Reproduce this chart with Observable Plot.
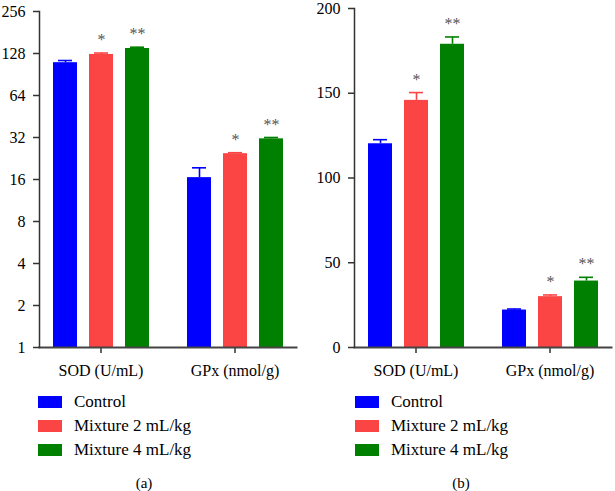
<!DOCTYPE html>
<html>
<head>
<meta charset="utf-8">
<script src="https://cdn.jsdelivr.net/npm/d3@7"></script>
<script src="https://cdn.jsdelivr.net/npm/@observablehq/plot@0.6"></script>
<style>
  html, body { margin: 0; padding: 0; background: #fff; }
  #root { position: relative; width: 615px; height: 491px; overflow: hidden; font-family: "Liberation Serif", serif; color: #000; }
  .panel { position: absolute; top: 0; }
  .legend { position: absolute; font-size: 17px; }
  .row { position: absolute; left: 0; height: 24px; white-space: nowrap; }
  .sw { position: absolute; left: 0; top: 6px; width: 24px; height: 12px; }
  .lab { position: absolute; top: 2px; line-height: 20px; }
  .cap { position: absolute; top: 476px; font-size: 15px; line-height: 15px; transform: translateX(-50%); }
</style>
</head>
<body>
<div id="root"></div>
<script>
// ---- data ----
const categories = ["SOD (U/mL)", "GPx (nmol/g)"];
const groups = ["Control", "Mixture 2 mL/kg", "Mixture 4 mL/kg"];
const colors = ["#0000ff", "#fb4444", "#008000"];
const stars = ["", "*", "**"];

// panel (a): log2 scale
const aSOD = [110, 126, 139];
const aSODsd = [4, 3, 3];
const aGPx = [16.5, 24.5, 31.3];
const aGPxsd = [2.9, 0.4, 0.7];
const aTicks = [1, 2, 4, 8, 16, 32, 64, 128, 256];

// panel (b): linear scale
const bSOD = [120.2, 145.8, 178.9];
const bSODsd = [2.4, 4.6, 4.3];
const bGPx = [22.1, 30.0, 39.2];
const bGPxsd = [0.6, 1.0, 2.2];
const bTicks = [0, 50, 100, 150, 200];

function rows(means, sds, cat) {
  return groups.map((g, i) => ({cat, grp: g, val: means[i], hi: means[i] + sds[i], star: stars[i]}));
}

function panel({data, yScale, ticks, base, width, marginLeft, marginRight, marginTop}) {
  return Plot.plot({
    width, height: 380, marginLeft, marginRight, marginTop, marginBottom: 33,
    style: {fontFamily: "Liberation Serif, serif", fontSize: "16px", color: "#000", background: "transparent", overflow: "visible"},
    fx: {domain: categories, paddingInner: 0.08, paddingOuter: 0, axis: null, label: null},
    x: {domain: groups, padding: 0.34, axis: null},
    y: {...yScale, axis: null},
    color: {domain: groups, range: colors},
    marks: [
      Plot.barY(data, {fx: "cat", x: "grp", y1: base, y2: "val", fill: "grp"}),
      Plot.ruleX(data, {fx: "cat", x: "grp", y1: "val", y2: "hi", stroke: "grp", strokeWidth: 1.6}),
      Plot.tickY(data, {fx: "cat", x: "grp", y: "hi", stroke: "grp", strokeWidth: 1.6, inset: 5}),
      Plot.text(data, {fx: "cat", x: "grp", y: "hi", text: "star", dy: -13, fill: "#555", fontSize: 16}),
      Plot.axisY({ticks, tickFormat: d => String(d), tickSize: 6, tickPadding: 8, stroke: "#333", strokeWidth: 1.5, fontSize: 16}),
      Plot.axisFx({anchor: "bottom", tickSize: 6, tickPadding: 11, stroke: "#333", strokeWidth: 1.5, fontSize: 16, label: null}),
      Plot.frame({anchor: "bottom", facet: "super", stroke: "#444", strokeWidth: 2}),
      Plot.frame({anchor: "left", facet: "super", stroke: "#333", strokeWidth: 1.5})
    ]
  });
}

const root = document.getElementById("root");

function addPanel(left, svg, legendLeft, capText, capX) {
  const div = document.createElement("div");
  div.className = "panel";
  div.style.left = left + "px";
  div.appendChild(svg);
  root.appendChild(div);

  const leg = document.createElement("div");
  leg.className = "legend";
  leg.style.left = legendLeft + "px";
  leg.style.top = "390px";
  groups.forEach((g, i) => {
    const r = document.createElement("div");
    r.className = "row";
    r.style.top = (i * 23.8) + "px";
    const sw = document.createElement("div");
    sw.className = "sw";
    sw.style.background = colors[i];
    const lab = document.createElement("div");
    lab.className = "lab";
    lab.style.left = "36px";
    lab.textContent = g;
    r.appendChild(sw); r.appendChild(lab);
    leg.appendChild(r);
  });
  root.appendChild(leg);

  const cap = document.createElement("div");
  cap.className = "cap";
  cap.style.left = capX + "px";
  cap.textContent = capText;
  root.appendChild(cap);
}

const dataA = [...rows(aSOD, aSODsd, categories[0]), ...rows(aGPx, aGPxsd, categories[1])];
const dataB = [...rows(bSOD, bSODsd, categories[0]), ...rows(bGPx, bGPxsd, categories[1])];

addPanel(0, panel({data: dataA, yScale: {type: "log", base: 2, domain: [1, 256]}, ticks: aTicks, base: 1,
  width: 305, marginLeft: 38, marginRight: 8, marginTop: 11}), 38, "(a)", 144);
addPanel(305, panel({data: dataB, yScale: {type: "linear", domain: [0, 200]}, ticks: bTicks, base: 0,
  width: 310, marginLeft: 48, marginRight: 3, marginTop: 8}), 355, "(b)", 461);
</script>
</body>
</html>
